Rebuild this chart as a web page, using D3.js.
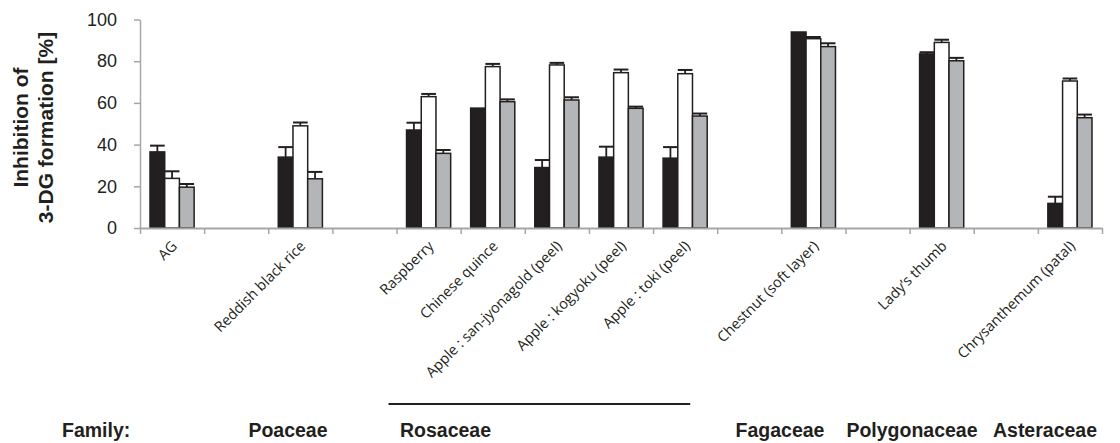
<!DOCTYPE html>
<html>
<head>
<meta charset="utf-8">
<script src="https://cdn.jsdelivr.net/npm/d3@7"></script>
<style>
  body { margin: 0; background: #fff; }
  svg { display: block; }
  .axis path, .axis line { stroke: #a6a6a6; }
</style>
</head>
<body>
<div id="chart"></div>
<script>
// categories along the x axis (empty strings are the gaps between families)
var categories = ["AG", "", "Reddish black rice", "", "Raspberry", "Chinese quince",
  "Apple : san-jyonagold (peel)", "Apple : kogyoku (peel)", "Apple : toki (peel)", "",
  "Chestnut (soft layer)", "", "Lady\u2019s thumb", "", "Chrysanthemum (patal)"];

// three series: black, white, grey bars (value + upper error)
var blackVals = [36.5, null, 34, null, 47, 57.5, 29, 34, 33.5, null, 94, null, 83.5, null, 11.8];
var blackErr  = [3, null, 4.8, null, 3.5, 0, 3.6, 5, 5.3, null, 0, null, 0.8, null, 3.2];
var whiteVals = [23.8, null, 49, null, 63, 77.4, 78.2, 74.5, 74, null, 90.8, null, 89, null, 70.5];
var whiteErr  = [3.4, null, 1.6, null, 1.3, 1.3, 1, 1.5, 1.8, null, 0.8, null, 1.3, null, 1.2];
var grayVals  = [19.6, null, 23.6, null, 35.8, 60.6, 61.4, 57.4, 53.7, null, 87, null, 80.2, null, 52.9];
var grayErr   = [1.5, null, 3.3, null, 1.6, 1.1, 1.3, 0.8, 1.2, null, 1.6, null, 1.4, null, 1.5];

var yTicks = [0, 20, 40, 60, 80, 100];
var families = ["Poaceae", "Rosaceae", "Fagaceae", "Polygonaceae", "Asteraceae"];

var series = [
  {key: "black", vals: blackVals, err: blackErr, fill: "#231f20"},
  {key: "white", vals: whiteVals, err: whiteErr, fill: "#ffffff"},
  {key: "gray",  vals: grayVals,  err: grayErr,  fill: "#b4b5b8"}
];

var W = 1120, H = 443;
var ink = "#231f20";

var svg = d3.select("#chart").append("svg")
    .attr("width", W)
    .attr("height", H);

var x = d3.scaleBand().domain(d3.range(categories.length)).range([140, 1102]);
var xb = d3.scaleLinear().domain([0, categories.length]).range([140, 1102]);
var x1 = d3.scaleBand().domain(series.map(function(s){ return s.key; }))
    .range([10, x.bandwidth() - 10]);
var y = d3.scaleLinear().domain([0, 100]).range([228, 19.5]);

// y axis
var yAxis = d3.axisLeft(y).tickValues(yTicks).tickSize(6).tickPadding(17).tickSizeOuter(0);
var gy = svg.append("g")
    .attr("class", "axis")
    .attr("transform", "translate(140,0)")
    .call(yAxis);
gy.selectAll("path, line").attr("stroke-width", 1.5);
gy.selectAll("text")
    .attr("fill", ink)
    .style("font-family", "'Liberation Sans', Arial, sans-serif")
    .style("font-size", "18px");

// y label (two lines)
var ylab = svg.append("text")
    .attr("transform", "translate(28,127.5) rotate(-90)")
    .attr("text-anchor", "middle")
    .attr("fill", ink)
    .style("font-family", "'Liberation Sans', Arial, sans-serif")
    .style("font-weight", "bold")
    .style("font-size", "21px");
ylab.append("tspan").attr("x", 0).attr("y", 0).text("Inhibition of");
ylab.append("tspan").attr("x", 0).attr("y", 25).text("3-DG formation [%]");

// bars
series.forEach(function(s) {
  var g = svg.append("g");
  var idx = d3.range(categories.length).filter(function(i){ return s.vals[i] != null; });

  g.selectAll("rect").data(idx).enter().append("rect")
      .attr("x", function(i){ return x(i) + x1(s.key); })
      .attr("width", x1.bandwidth())
      .attr("y", function(i){ return y(s.vals[i]); })
      .attr("height", function(i){ return y(0) - y(s.vals[i]); })
      .attr("fill", s.fill)
      .attr("stroke", ink)
      .attr("stroke-width", 1.5);

  var eb = idx.filter(function(i){ return s.err[i] > 0; });
  g.selectAll("line.stem").data(eb).enter().append("line")
      .attr("class", "stem")
      .attr("x1", function(i){ return x(i) + x1(s.key) + x1.bandwidth() / 2; })
      .attr("x2", function(i){ return x(i) + x1(s.key) + x1.bandwidth() / 2; })
      .attr("y1", function(i){ return y(s.vals[i]); })
      .attr("y2", function(i){ return y(s.vals[i] + s.err[i]); })
      .attr("stroke", ink)
      .attr("stroke-width", 1.8);
  g.selectAll("line.cap").data(eb).enter().append("line")
      .attr("class", "cap")
      .attr("x1", function(i){ return x(i) + x1(s.key); })
      .attr("x2", function(i){ return x(i) + x1(s.key) + x1.bandwidth(); })
      .attr("y1", function(i){ return y(s.vals[i] + s.err[i]); })
      .attr("y2", function(i){ return y(s.vals[i] + s.err[i]); })
      .attr("stroke", ink)
      .attr("stroke-width", 2);
});

// x axis: ticks at the band boundaries
var xAxis = d3.axisBottom(xb).tickValues(d3.range(categories.length + 1))
    .tickFormat("").tickSize(6).tickSizeOuter(0);
var gx = svg.append("g")
    .attr("class", "axis")
    .attr("transform", "translate(0," + y(0) + ")")
    .call(xAxis);
gx.select("path").attr("stroke-width", 2);
gx.selectAll("line").attr("stroke-width", 1.5);

// category labels, rotated
svg.append("g").selectAll("text")
    .data(d3.range(categories.length).filter(function(i){ return categories[i] !== ""; }))
    .enter().append("text")
    .attr("transform", function(i){
      return "translate(" + (x(i) + x.bandwidth() / 2 + 6) + ",247) rotate(-45)";
    })
    .attr("text-anchor", "end")
    .attr("fill", ink)
    .style("font-family", "'Open Sans', sans-serif")
    .style("font-size", "14.5px")
    .text(function(i){ return categories[i]; });

// family row
var famFont = function(sel) {
  sel.attr("fill", ink)
     .style("font-family", "'Liberation Sans', Arial, sans-serif")
     .style("font-weight", "bold")
     .style("font-size", "19.5px");
};
svg.append("text").attr("x", 62).attr("y", 437).text("Family:").call(famFont);
var famX = [288, 445.5, 780, 912, 1045];
svg.append("g").selectAll("text").data(families).enter().append("text")
    .attr("x", function(d, i){ return famX[i]; })
    .attr("y", 437)
    .attr("text-anchor", "middle")
    .text(function(d){ return d; })
    .call(famFont);

// line over the Rosaceae group
svg.append("line")
    .attr("x1", x(4) - 8).attr("x2", x(8) + x.bandwidth() - 27)
    .attr("y1", 404).attr("y2", 404)
    .attr("stroke", ink)
    .attr("stroke-width", 2);
</script>
</body>
</html>
